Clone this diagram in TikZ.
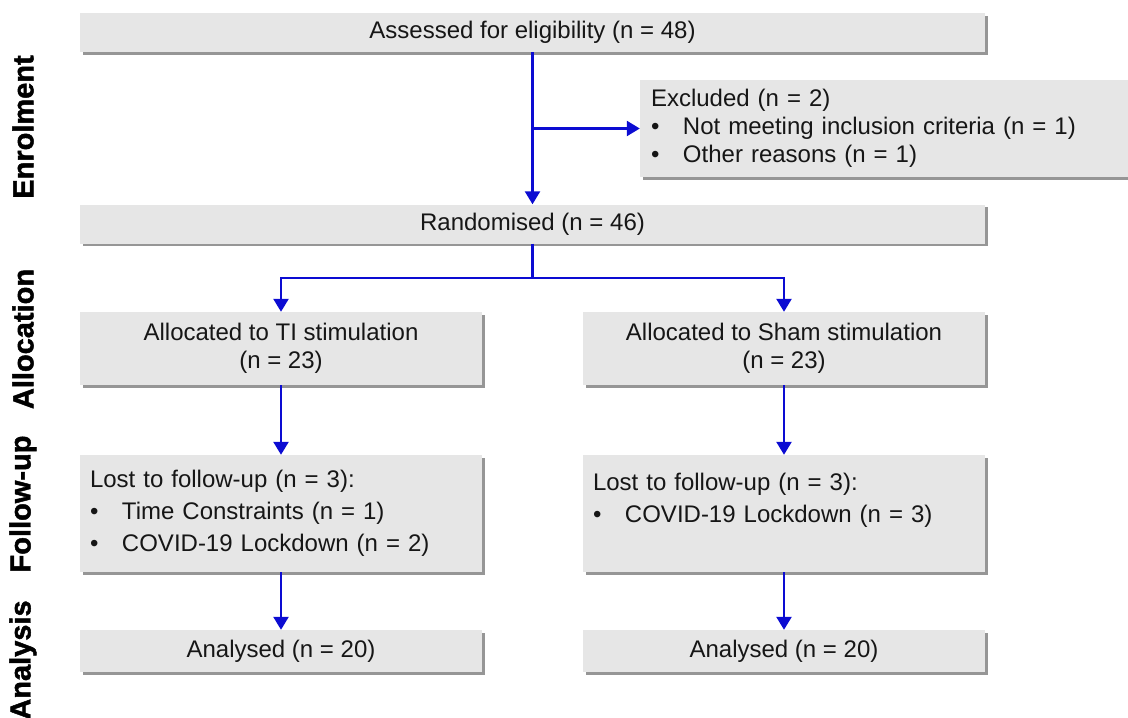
\documentclass[tikz,border=0pt]{standalone}
\usepackage{fontspec}
\setmainfont{Liberation Sans}
\newfontfamily\stagefont[FakeBold=1.6]{Liberation Sans Bold}
\usepackage{xcolor}
\usepackage{tikz}
\usetikzlibrary{shapes,arrows.meta,shadows,calc}
\definecolor{boxgray}{RGB}{230,230,230}
\definecolor{flowblue}{RGB}{12,12,210}
\definecolor{inkgray}{RGB}{22,22,22}
\tikzstyle{block} = [rectangle, fill=boxgray, text=inkgray, inner sep=0pt,
    font=\fontsize{24}{28}\selectfont,
    drop shadow={shadow xshift=2.5pt, shadow yshift=-2.5pt, fill=black!55, opacity=0.75}]
\tikzstyle{wideblock} = [block, minimum width=905pt, minimum height=39pt]
\tikzstyle{halfblock} = [block, minimum width=402pt, align=center]
\tikzstyle{listblock} = [block, inner xsep=10pt, text width=382pt, align=left,
    minimum height=117pt, font=\fontsize{24}{32}\selectfont]
\tikzstyle{stage} = [rotate=90, text=black, font=\fontsize{29}{30}\selectfont\stagefont]
\tikzstyle{arrow} = [draw=flowblue, line width=2.4pt, -{Triangle[width=15pt,length=13pt]}]
\tikzstyle{line} = [draw=flowblue, line width=2.4pt]
\newcommand{\bulletitem}[1]{\makebox[32pt][l]{\textbullet}#1}

\begin{document}
\begin{tikzpicture}[node distance = 2cm, auto]
			\useasboundingbox (0,0) rectangle (1128pt,-718pt);
			% Place nodes
			\node [wideblock] (assess) at (532.5pt,-32.5pt) {Assessed for eligibility (n = 48)};
			\node [block, inner xsep=11pt, text width=466pt, align=left, minimum height=97pt,
				below of=assess, node distance=96pt, xshift=351.5pt] (excl)
				{Excluded (n = 2)\\ \bulletitem{Not meeting inclusion criteria (n = 1)}\\ \bulletitem{Other reasons (n = 1)}};
			\node [wideblock, below of=assess, node distance=191.5pt] (rand) {Randomised (n = 46)};
			\node [halfblock, minimum height=73pt, below of=rand, node distance=124.5pt, xshift=-251.5pt] (tiAlloc)
				{Allocated to TI stimulation\\ (n = 23)};
			\node [halfblock, minimum height=73pt, right of=tiAlloc, node distance=503pt] (shamAlloc)
				{Allocated to Sham stimulation\\ (n = 23)};
			\node [listblock, below of=tiAlloc, node distance=165pt] (tiLost)
				{Lost to follow-up (n = 3):\\ \bulletitem{Time Constraints (n = 1)}\\ \bulletitem{COVID-19 Lockdown (n = 2)}};
			\node [listblock, below of=shamAlloc, node distance=165pt] (shamLost)
				{Lost to follow-up (n = 3):\\ \bulletitem{COVID-19 Lockdown (n = 3)}\\ \mbox{}};
			\node [halfblock, minimum height=42pt, below of=tiLost, node distance=137.5pt] (tiAnalysed) {Analysed (n = 20)};
			\node [halfblock, minimum height=42pt, below of=shamLost, node distance=137.5pt] (shamAnalysed) {Analysed (n = 20)};

			% Stage labels
			\node [stage] (enrolment) at (23pt,-127pt) {Enrolment};
			\node [stage] (allocation) at (23pt,-339pt) {Allocation};
			\node [stage] (followUp) at (23pt,-504pt) {Follow-up};
			\node [stage] (analysis) at (23pt,-660pt) {Analysis};

			% Draw edges
			\coordinate (exclSplit) at (assess.south |- excl.west);
			\coordinate (branch) at ($(rand.south)+(0,-34pt)$);
			\path [line] (assess.south) -- (exclSplit);
			\path [arrow] (exclSplit) -- (excl.west);
			\path [arrow] (exclSplit) -- (rand.north);
			\path [line] (rand.south) -- (branch);
			\path [arrow] (branch) -| (tiAlloc.north);
			\path [arrow] (branch) -| (shamAlloc.north);
			\path [arrow] (tiAlloc) -- (tiLost);
			\path [arrow] (shamAlloc) -- (shamLost);
			\path [arrow] (tiLost) -- (tiAnalysed);
			\path [arrow] (shamLost) -- (shamAnalysed);
	\end{tikzpicture}
\end{document}
